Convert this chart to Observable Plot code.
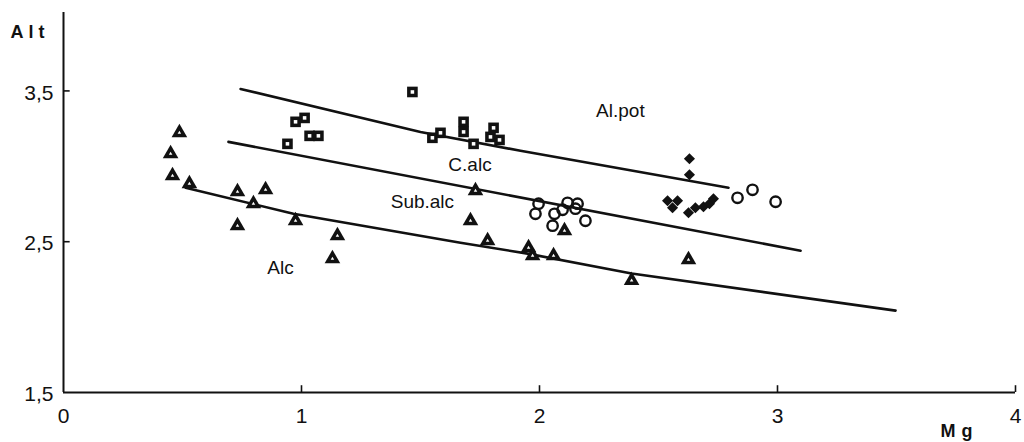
<!DOCTYPE html>
<html>
<head>
<meta charset="utf-8">
<script src="https://cdn.jsdelivr.net/npm/d3@7"></script>
<script src="https://cdn.jsdelivr.net/npm/@observablehq/plot@0.6"></script>
<style>
  html, body { margin: 0; padding: 0; background: #fff; }
  #chart svg { display: block; }
</style>
</head>
<body>
<div id="chart"></div>
<script>
// ---- data (Mg, Alt) ----
const xTicks = [0, 1, 2, 3, 4];
const yTicks = [1.5, 2.5, 3.5];

const triangles = [
  [0.487, 3.222], [0.450, 3.083], [0.458, 2.937], [0.529, 2.884], [0.731, 2.831],
  [0.849, 2.844], [0.798, 2.752], [0.731, 2.606], [0.975, 2.639], [1.151, 2.540],
  [1.130, 2.387], [1.731, 2.838], [1.710, 2.639], [1.782, 2.507], [1.954, 2.460],
  [1.971, 2.407], [2.059, 2.407], [2.105, 2.573], [2.387, 2.242], [2.626, 2.381]
];
const squares = [
  [1.466, 3.493], [0.975, 3.295], [1.013, 3.321], [1.034, 3.202], [1.071, 3.202],
  [0.941, 3.149], [1.550, 3.189], [1.584, 3.222], [1.681, 3.295], [1.681, 3.228],
  [1.723, 3.149], [1.807, 3.255], [1.794, 3.195], [1.832, 3.175]
];
const circles = [
  [1.996, 2.752], [1.983, 2.685], [2.063, 2.685], [2.097, 2.712], [2.118, 2.758],
  [2.160, 2.752], [2.151, 2.719], [2.193, 2.639], [2.055, 2.606],
  [2.832, 2.791], [2.895, 2.844], [2.992, 2.765]
];
const diamonds = [
  [2.630, 3.050], [2.630, 2.944], [2.538, 2.772], [2.580, 2.772], [2.559, 2.725],
  [2.626, 2.692], [2.655, 2.725], [2.689, 2.732], [2.714, 2.752], [2.731, 2.785]
];

// boundary lines
const lineAlpotCalc = [[0.744, 3.513], [1.500, 3.228], [1.920, 3.103], [2.794, 2.858]];
const lineCalcSubalc = [[0.693, 3.162], [3.097, 2.440]];
const lineSubalcAlc = [[0.513, 2.858], [0.966, 2.685], [1.668, 2.493], [1.950, 2.421], [2.387, 2.289], [3.496, 2.043]];

const regionNames = ["Al.pot", "C.alc", "Sub.alc", "Alc"];
const regionX = [2.34, 1.708, 1.508, 0.912];
const regionY = [3.368, 3.007, 2.762, 2.328];
const regionLabels = regionNames.map((t, i) => ({t, x: regionX[i], y: regionY[i]}));

const fmt = d => String(d).replace(".", ",");
const X = d => d[0], Y = d => d[1];

const chart = Plot.plot({
  width: 1024,
  height: 442,
  marginLeft: 63,
  marginRight: 9,
  marginTop: 12,
  marginBottom: 50,
  x: {domain: [0, 4]},
  y: {domain: [1.5, 4.02]},
  style: {fontFamily: "'Liberation Sans', Arial, sans-serif", background: "#fff", color: "#111"},
  marks: [
    // axis lines
    Plot.ruleX([0], {stroke: "#111", strokeWidth: 2}),
    Plot.ruleY([1.5], {stroke: "#111", strokeWidth: 2}),
    // inward ticks
    Plot.ruleX(xTicks.slice(1), {x: d => d, y1: 1.5, y2: 1.545, stroke: "#111", strokeWidth: 1.6}),
    Plot.ruleY(yTicks.slice(1), {y: d => d, x1: 0, x2: 0.028, stroke: "#111", strokeWidth: 1.6}),
    // tick labels
    Plot.axisY({ticks: yTicks, tickSize: 0, tickPadding: 10, tickFormat: fmt, fontSize: 21, dy: 2, label: null, fill: "#111"}),
    Plot.axisX({ticks: xTicks, tickSize: 0, tickPadding: 16, tickFormat: fmt, fontSize: 21, label: null, fill: "#111"}),
    // axis titles
    Plot.text(["Alt"], {frameAnchor: "top-left", dx: -53, dy: 20, textAnchor: "start", lineAnchor: "middle",
      fontSize: 18, fontWeight: "bold", fill: "#111"}),
    Plot.text(["Mg"], {frameAnchor: "bottom-right", dx: -37, dy: 39, textAnchor: "end", lineAnchor: "middle",
      fontSize: 18, fontWeight: "bold", fill: "#111"}),
    // boundary lines
    Plot.line(lineAlpotCalc, {x: X, y: Y, stroke: "#111", strokeWidth: 2.6}),
    Plot.line(lineCalcSubalc, {x: X, y: Y, stroke: "#111", strokeWidth: 2.6}),
    Plot.line(lineSubalcAlc, {x: X, y: Y, stroke: "#111", strokeWidth: 2.6}),
    // region labels
    Plot.text(regionLabels, {x: "x", y: "y", text: "t", fontSize: 19, fill: "#111"}),
    // markers
    Plot.dot(triangles, {x: X, y: Y, symbol: "triangle", r: 5.8, fill: "#111"}),
    Plot.dot(triangles, {x: X, y: Y, symbol: "triangle", r: 1.3, fill: "#fff"}),
    Plot.dot(squares, {x: X, y: Y, symbol: "square", r: 6.0, fill: "#111"}),
    Plot.dot(squares, {x: X, y: Y, symbol: "square", r: 2.0, fill: "#fff"}),
    Plot.dot(circles, {x: X, y: Y, r: 5.2, stroke: "#111", strokeWidth: 2.4, fill: "none"}),
    Plot.dot(diamonds, {x: X, y: Y, symbol: "diamond2", r: 5.0, fill: "#111"})
  ]
});
// letter spacing for axis titles
chart.querySelectorAll("text").forEach(t => {
  if (t.textContent === "Mg") t.setAttribute("letter-spacing", "6");
  if (t.textContent === "Alt") t.setAttribute("letter-spacing", "5");
});
document.getElementById("chart").appendChild(chart);
</script>
</body>
</html>
